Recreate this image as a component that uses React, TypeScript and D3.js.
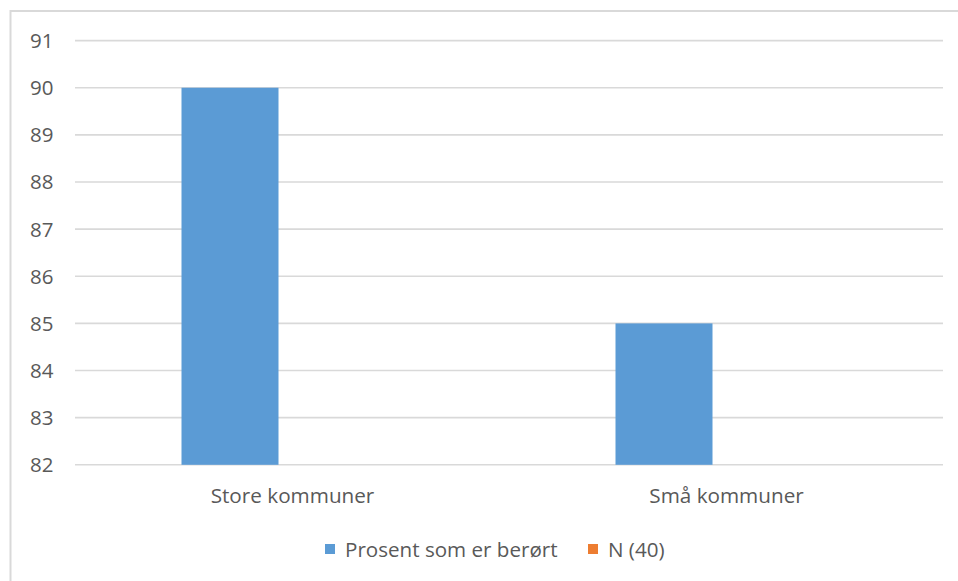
import React from "react";
import * as d3 from "d3";

const categories = ["Store kommuner", "Små kommuner"];
const seriesNames = ["Prosent som er berørt", "N (40)"];
const seriesColors = ["#5B9BD5", "#ED7D31"];
const percentValues = [90, 85];
const nValues: (number | null)[] = [null, null];
const yTicks = [82, 83, 84, 85, 86, 87, 88, 89, 90, 91];

const W = 958;
const H = 581;
const FONT = "'Open Sans', 'Noto Sans', sans-serif";
const TEXT = "#595959";
const GRID = "#d9d9d9";

export default function App() {
  const x = d3.scaleBand<string>().domain(categories).range([75.5, 943.5]).padding(0);
  const inner = d3
    .scaleBand<string>()
    .domain(seriesNames)
    .range([0, x.bandwidth()])
    .paddingInner(0.224)
    .paddingOuter(0.848);
  const y = d3.scaleLinear().domain([82, 91]).range([464.8, 40.6]);

  const series = [percentValues, nValues];

  return (
    <svg
      width={W}
      height={H}
      style={{ position: "absolute", left: 0, top: 0, background: "#fff" }}
      fontFamily={FONT}
    >
      <rect x={0} y={0} width={W} height={H} fill="#fff" />
      {/* chart border */}
      <line x1={10} x2={W} y1={11} y2={11} stroke={GRID} strokeWidth={2} />
      <line x1={10.5} x2={10.5} y1={10} y2={H} stroke={GRID} strokeWidth={2} />

      {/* gridlines */}
      {yTicks.map((t) => (
        <line
          key={t}
          x1={75}
          x2={943}
          y1={y(t)}
          y2={y(t)}
          stroke={GRID}
          strokeWidth={1.6}
        />
      ))}

      {/* y tick labels */}
      {yTicks.map((t) => (
        <text
          key={"l" + t}
          x={53.5}
          y={y(t)}
          dy="0.36em"
          textAnchor="end"
          fontSize={20.5}
          fill={TEXT}
        >
          {t}
        </text>
      ))}

      {/* bars */}
      {series.map((vals, si) =>
        categories.map((c, ci) => {
          const v = vals[ci];
          if (v == null || v <= 82) return null;
          const x0 = (x(c) ?? 0) + (inner(seriesNames[si]) ?? 0);
          return (
            <rect
              key={si + "-" + ci}
              x={x0}
              y={y(v)}
              width={inner.bandwidth()}
              height={y(82) - y(v)}
              fill={seriesColors[si]}
            />
          );
        })
      )}

      {/* category labels */}
      {categories.map((c) => (
        <text
          key={c}
          x={(x(c) ?? 0) + x.bandwidth() / 2}
          y={503}
          textAnchor="middle"
          fontSize={20.7}
          fill={TEXT}
        >
          {c}
        </text>
      ))}

      {/* legend */}
      {seriesNames.map((s, i) => {
        const lx = [325, 588][i];
        return (
          <g key={s}>
            <rect x={lx} y={544} width={10} height={10} fill={seriesColors[i]} />
            <text x={lx + 20} y={556.5} fontSize={20.6} fill={TEXT}>
              {s}
            </text>
          </g>
        );
      })}
    </svg>
  );
}
